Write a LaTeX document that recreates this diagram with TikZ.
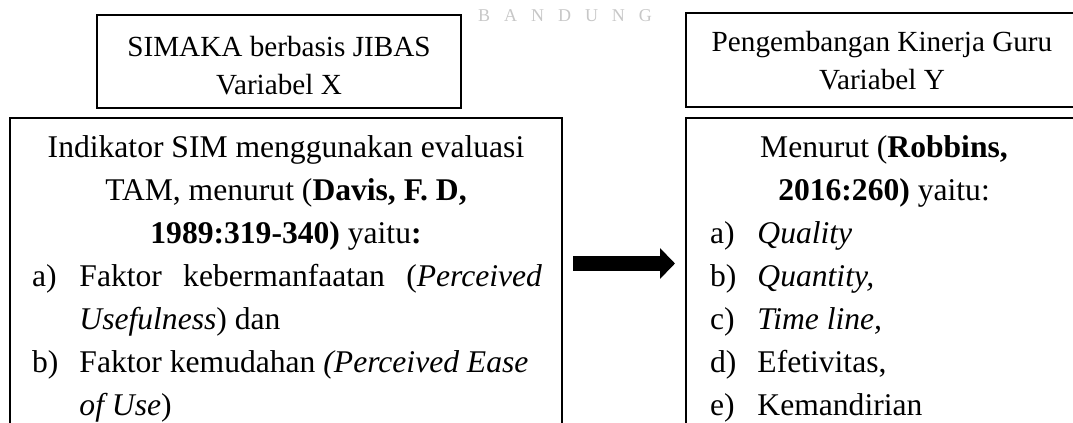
\documentclass[tikz,border=0pt]{standalone}
\usepackage{fontspec}
\setmainfont{Liberation Serif}
\usetikzlibrary{arrows.meta}

\newcommand{\bodyfont}{\fontsize{23.7}{32.25}\selectfont}
\newcommand{\headfont}{\fontsize{21.9}{29}\selectfont}
\newcommand{\lbl}[1]{\makebox[35.6pt][l]{#1}}

\tikzset{every picture/.style={line width=1.5pt}}

\begin{document}
\begin{tikzpicture}[x=0.75pt,y=0.75pt,yscale=-1,xscale=1]
\useasboundingbox (0,0) rectangle (1073,423);
\clip (0,0) rectangle (1073,423);

% watermark
\draw (565,16) node [text=black!22, font=\fontsize{13.5}{16}\selectfont, inner sep=0pt] (wm) {B\kern10.5pt A\kern10.5pt N\kern10.5pt D\kern10.5pt U\kern10.5pt N\kern10.5pt G};

%Shape: Rectangle [variabel X]
\draw (97,15) rectangle (461,108);
%Shape: Rectangle [indikator X]
\draw (10,118) rectangle (562,440);
%Shape: Rectangle [variabel Y]
\draw (686,13) rectangle (1090,107);
%Shape: Rectangle [indikator Y]
\draw (686,118) rectangle (1090,440);

% Text Node
\draw (279,95) node [anchor=base, align=center, font=\headfont, inner sep=0pt] (varX) {SIMAKA berbasis JIBAS\\Variabel X};
% Text Node
\draw (286,244) node [anchor=base, align=center, font=\bodyfont, inner sep=0pt] (indX) {Indikator SIM menggunakan evaluasi\\TAM, menurut (\textbf{Davis, F. D,}\\\textbf{1989:319-340)} yaitu\textbf{:}};
% Text Node
\draw (31,416) node [anchor=base west, align=left, font=\bodyfont, inner sep=0pt] (listX) {\makebox[382.5pt][s]{\lbl{a)}Faktor kebermanfaatan (\textit{Perceived}}\\\lbl{}\textit{Usefulness}) dan\\\lbl{b)}Faktor kemudahan \textit{(Perceived Ease}\\\lbl{}\textit{of Use})};

% Text Node
\draw (882,90) node [anchor=base, align=center, font=\headfont, inner sep=0pt] (varY) {Pengembangan Kinerja Guru\\Variabel Y};
% Text Node
\draw (884,201) node [anchor=base, align=center, font=\bodyfont, inner sep=0pt] (indY) {Menurut (\textbf{Robbins,}\\\textbf{2016:260)} yaitu:};
% Text Node
\draw (709,416) node [anchor=base west, align=left, font=\bodyfont, inner sep=0pt] (listY) {\lbl{a)}\textit{Quality}\\\lbl{b)}\textit{Quantity,}\\\lbl{c)}\textit{Time line,}\\\lbl{d)}Efetivitas,\\\lbl{e)}Kemandirian};

%Block arrow
\coordinate (arrS) at (573,263.5);
\coordinate (arrE) at (675,263.5);
\draw [line width=11.25pt, -{Triangle[length=11.25pt,width=22.5pt]}] (arrS) -- (arrE);

\end{tikzpicture}
\end{document}
